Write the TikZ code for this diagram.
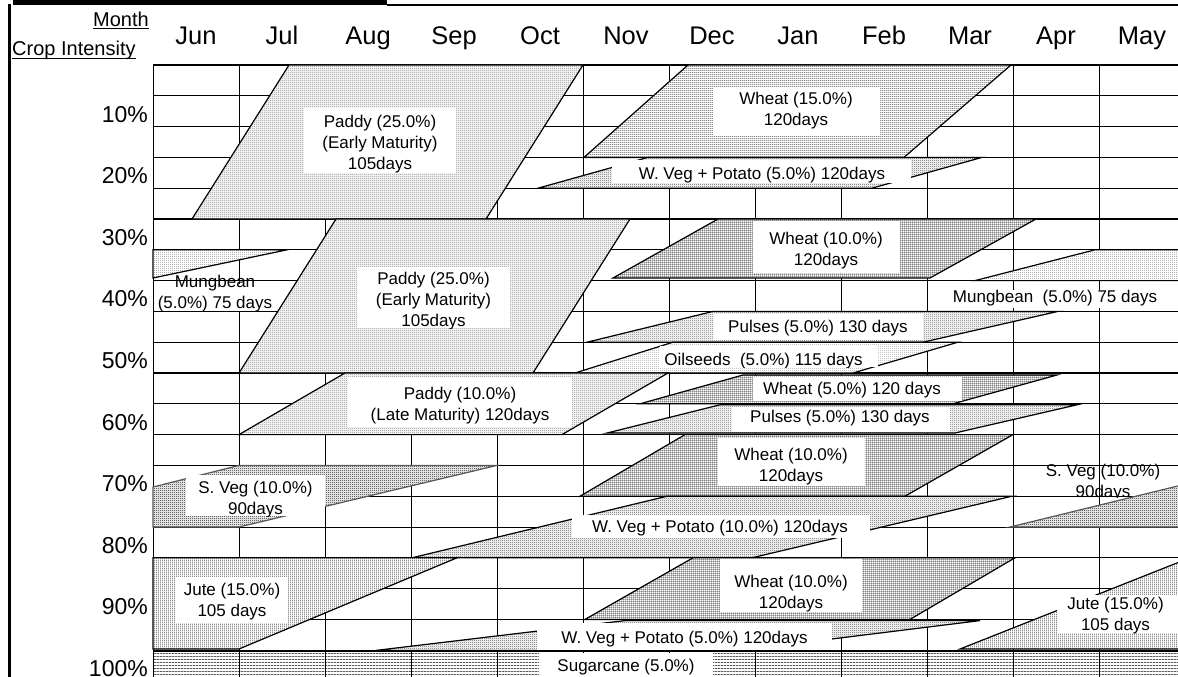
\documentclass[tikz,border=0pt]{standalone}
\usepackage{fontspec}
\setmainfont{Liberation Sans}
\usetikzlibrary{patterns}

% fill textures (form-only, coloured by "pattern color")
\pgfdeclarepatternformonly{chk}{\pgfpointorigin}{\pgfpoint{2pt}{2pt}}{\pgfpoint{2pt}{2pt}}{%
  \pgfpathrectangle{\pgfpointorigin}{\pgfpoint{1pt}{1pt}}%
  \pgfpathrectangle{\pgfpoint{1pt}{1pt}}{\pgfpoint{1pt}{1pt}}%
  \pgfusepath{fill}}
\pgfdeclarepatternformonly{sparsedot}{\pgfpointorigin}{\pgfpoint{2pt}{2pt}}{\pgfpoint{2pt}{2pt}}{%
  \pgfpathrectangle{\pgfpointorigin}{\pgfpoint{1pt}{1pt}}%
  \pgfusepath{fill}}
\pgfdeclarepatternformonly{hlines}{\pgfpointorigin}{\pgfpoint{2pt}{2pt}}{\pgfpoint{2pt}{2pt}}{%
  \pgfpathrectangle{\pgfpointorigin}{\pgfpoint{2pt}{0.8pt}}%
  \pgfusepath{fill}}
\pgfdeclarepatternformonly{vlines}{\pgfpointorigin}{\pgfpoint{2pt}{2pt}}{\pgfpoint{2pt}{2pt}}{%
  \pgfpathrectangle{\pgfpointorigin}{\pgfpoint{0.8pt}{2pt}}%
  \pgfusepath{fill}}
\pgfdeclarepatternformonly{xhatch}{\pgfpointorigin}{\pgfpoint{2.4pt}{2.4pt}}{\pgfpoint{2.4pt}{2.4pt}}{%
  \pgfpathrectangle{\pgfpointorigin}{\pgfpoint{2.4pt}{0.6pt}}%
  \pgfpathrectangle{\pgfpointorigin}{\pgfpoint{0.6pt}{2.4pt}}%
  \pgfusepath{fill}}
\pgfdeclarepatternformonly{canelines}{\pgfpointorigin}{\pgfpoint{3.1pt}{3.1pt}}{\pgfpoint{3.1pt}{3.1pt}}{%
  \pgfpathrectangle{\pgfpointorigin}{\pgfpoint{3.1pt}{0.8pt}}%
  \pgfusepath{fill}}

\newcommand\lbfont{\fontsize{17}{21}\selectfont}
\newcommand\monthfont{\fontsize{25.5}{30}\selectfont}
\newcommand\pctfont{\fontsize{23}{27}\selectfont}
\newcommand\headfont{\fontsize{20}{24}\selectfont}

% white label box with its text clipped to the box
\newcommand\tagged[8]{%
  \fill[white] (#2,#3) rectangle (#4,#5);
  \begin{scope}
    \clip (#2,#3) rectangle (#4,#5);
    \node[ltxt] (#1) at (#6,#7) {#8};
  \end{scope}}

\tikzset{
  gridline/.style={line width=1pt},
  crop/.style={draw=black, line width=1.2pt, line join=miter, preaction={fill=white}},
  paddy/.style={crop, pattern=chk, pattern color=black!46},
  wheatH/.style={crop, pattern=hlines, pattern color=black!68},
  wheatX/.style={crop, pattern=xhatch, pattern color=black!72},
  wveg/.style={crop, pattern=chk, pattern color=black!64},
  mung/.style={crop, pattern=sparsedot, pattern color=black!70},
  pulse/.style={crop, pattern=chk, pattern color=black!56},
  oil/.style={crop, pattern=sparsedot, pattern color=black!55},
  sveg/.style={crop, draw=black!65, pattern=chk, pattern color=black!92},
  jute/.style={crop, pattern=vlines, pattern color=black!68},
  cane/.style={pattern=canelines, pattern color=black},
  ltxt/.style={font=\lbfont, align=center, inner sep=0pt},
}

\begin{document}
\begin{tikzpicture}[x=1pt, y=-1pt]
\useasboundingbox (0,0) rectangle (1178,677);
\clip (0,0) rectangle (1178,677);

% ---- frame and title rule ----
\fill (13,0) rectangle (387,5.5);
\draw[line width=1.5pt] (387,5) -- (1178,5);
\draw[line width=2.6pt] (9.3,4) -- (9.3,677);

% ---- header ----
\node[font=\headfont, anchor=base east, inner sep=0pt] (hmonth) at (149,26.5) {Month};
\draw[line width=1pt] (hmonth.west |- 0,28.8) -- (149,28.8);
\node[font=\headfont, anchor=base west, inner sep=0pt] (hcrop) at (12,56) {Crop Intensity};
\draw[line width=1pt] (12,58.5) -- (hcrop.east |- 0,58.5);

\foreach \m [count=\i from 0] in {Jun,Jul,Aug,Sep,Oct,Nov,Dec,Jan,Feb,Mar,Apr,May}
  \node[font=\monthfont, anchor=base, inner sep=0pt] (month-\i) at (196+86*\i,45) {\m};

\foreach \k in {1,...,10}
  \node[font=\pctfont, anchor=base east, inner sep=0pt] (pct-\k) at (148,60.4+61.6*\k) {\k0\%};

% ---- calendar grid ----
\foreach \i in {0,...,11}
  \draw[gridline] (153+86*\i,65) -- (153+86*\i,680);
\foreach \k in {0,...,19}
  \draw[gridline] (153,65+30.8*\k) -- (1190,65+30.8*\k);
\foreach \k in {0,5,10}
  \draw[line width=1.7pt] (153,65+30.8*\k) -- (1190,65+30.8*\k);

% ---- crop bands ----
\path[paddy] (289,65) -- (583,65) -- (486,219) -- (192,219) -- cycle;
\path[wheatH] (688,65) -- (1011,65) -- (904,157.4) -- (584,157.4) -- cycle;
\path[wveg] (648,157.4) -- (982,157.4) -- (872,188.2) -- (538,188.2) -- cycle;
\path[mung] (153,249.8) -- (287,249.8) -- (153,278) -- cycle;
\path[mung] (975,280.6) -- (1095,249.8) -- (1190,249.8) -- (1190,280.6) -- cycle;
\path[paddy] (336,219) -- (630,219) -- (533,373) -- (239,373) -- cycle;
\path[wheatX] (718,219) -- (1036,219) -- (930,278) -- (613,278) -- cycle;
\path[pulse] (713,311.4) -- (1058,311.4) -- (923,342.2) -- (587,342.2) -- cycle;
\path[oil] (673,342.2) -- (958,342.2) -- (853,373) -- (575,373) -- cycle;
\path[paddy] (345,373) -- (668,373) -- (562,434.6) -- (239,434.6) -- cycle;
\path[wheatX] (743,375) -- (1057,375) -- (953,403.8) -- (640,403.8) -- cycle;
\path[pulse] (720,404.8) -- (1077,404.8) -- (955,433) -- (607,433) -- cycle;
\path[wheatX] (685,434.6) -- (1013,434.6) -- (905,496.2) -- (580,496.2) -- cycle;
\path[sveg] (153,487) -- (239,465.4) -- (497,465.4) -- (239,527) -- (153,527) -- cycle;
\path[sveg] (1010,527) -- (1190,483) -- (1190,527) -- cycle;
\path[wveg] (667,496.2) -- (1012,496.2) -- (752,557.8) -- (412,557.8) -- cycle;
\path[jute] (153,557.8) -- (457,557.8) -- (239,649) -- (153,649) -- cycle;
\path[jute] (960,649) -- (1190,557.8) -- (1190,649) -- cycle;
\path[wheatX] (693,557.8) -- (1015,557.8) -- (910,619.4) -- (585,619.4) -- cycle;
\path[wveg] (625,620.6) -- (980,620.6) -- (740,650.4) -- (376,650.4) -- cycle;
\path[cane] (153,651.5) rectangle (1190,690);
\draw[line width=1.6pt] (153,651.5) -- (1190,651.5);

% ---- labels ----
\tagged{t-paddy1}{304}{108}{456}{173}{380}{144.1}{Paddy (25.0\%)\\(Early Maturity)\\105days}
\tagged{t-wheat1}{713}{88}{880}{135}{796}{111.1}{Wheat (15.0\%)\\120days}
\tagged{t-wveg1}{612}{160}{911}{183}{762}{175.6}{W. Veg + Potato (5.0\%) 120days}
\fill[white] (156,284) rectangle (276,311);
\node[ltxt] (t-mung1) at (215,294.1) {Mungbean\\(5.0\%) 75 days};
\tagged{t-paddy2}{357}{267}{510}{328}{433.5}{301.1}{Paddy (25.0\%)\\(Early Maturity)\\105days}
\tagged{t-wheat2}{753}{221}{900}{273}{826}{251.1}{Wheat (10.0\%)\\120days}
\fill[white] (935,290) rectangle (1178,308);
\node[ltxt] (t-mung2) at (1055,298.6) {Mungbean~~(5.0\%) 75 days};
\tagged{t-pulse1}{713}{314}{923}{340}{818}{328.6}{Pulses (5.0\%) 130 days}
\tagged{t-oil}{660}{346}{878}{367}{763.5}{361.6}{Oilseeds~~(5.0\%) 115 days}
\tagged{t-paddy3}{348}{377}{572}{427}{460}{406.1}{Paddy (10.0\%)\\(Late Maturity) 120days}
\tagged{t-wheat3}{753}{377}{962}{401}{852}{390.6}{Wheat (5.0\%) 120 days}
\tagged{t-pulse2}{732}{407}{950}{432}{840}{418.6}{Pulses (5.0\%) 130 days}
\tagged{t-wheat4}{718}{438}{865}{486}{791}{466.6}{Wheat (10.0\%)\\120days}
\tagged{t-sveg1}{186}{475}{325}{516}{255.5}{499.1}{S. Veg (10.0\%)\\90days}
\begin{scope}
  \clip (1030,455) rectangle (1178,497);
  \node[ltxt] (t-sveg2) at (1103,482.6) {S. Veg (10.0\%)\\90days};
\end{scope}
\tagged{t-wveg2}{572}{515}{870}{538}{720}{528.3}{W. Veg + Potato (10.0\%) 120days}
\tagged{t-jute1}{176}{577}{288}{623}{232}{601.6}{Jute (15.0\%)\\105 days}
\tagged{t-wheat5}{720}{559}{862}{612}{791}{593.6}{Wheat (10.0\%)\\120days}
\tagged{t-wveg3}{537}{623}{832}{650}{684.5}{638.6}{W. Veg + Potato (5.0\%) 120days}
\tagged{t-jute2}{1057}{595}{1178}{633}{1115.5}{615.1}{Jute (15.0\%)\\105 days}
\tagged{t-cane}{539}{653}{713}{680}{626}{667.3}{Sugarcane (5.0\%)}

\end{tikzpicture}
\end{document}
